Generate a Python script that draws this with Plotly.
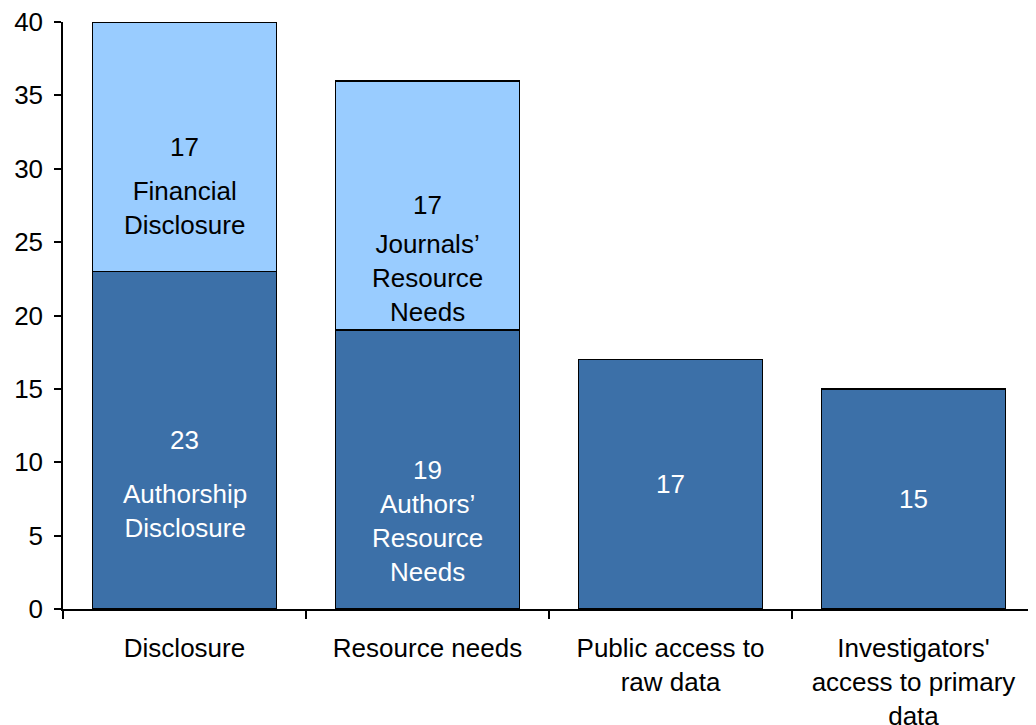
import plotly.graph_objects as go

categories = ["Disclosure", "Resource needs", "Public access to<br>raw data",
              "Investigators'<br>access to primary<br>data"]
base_values = [23, 19, 17, 15]
top_values = [17, 17, None, None]
base_labels = ["Authorship<br>Disclosure", "Authors’<br>Resource<br>Needs", "", ""]
top_labels = ["Financial<br>Disclosure", "Journals’<br>Resource<br>Needs", "", ""]
y_ticks = [0, 5, 10, 15, 20, 25, 30, 35, 40]

# pixel offsets of the descriptive labels below the numbers (layout only)
base_label_off = [55, 36, 0, 0]
top_label_off = [45, 40, 0, 0]

DARK = "#3C70A8"
LIGHT = "#99CCFF"
FONT = "Liberation Sans, Arial, sans-serif"
FS = 26
LINE = 32.5

fig = go.Figure()
fig.add_bar(x=categories, y=base_values, marker=dict(color=DARK, line=dict(color="black", width=1.6)),
            width=0.757, hoverinfo="skip")
fig.add_bar(x=categories, y=top_values, marker=dict(color=LIGHT, line=dict(color="black", width=1.6)),
            width=0.757, hoverinfo="skip")

ann = []
for i, c in enumerate(categories):
    b = base_values[i]
    mid = b / 2
    ann.append(dict(x=c, y=mid, text=str(b), showarrow=False, yanchor="middle",
                    font=dict(color="white", size=FS, family=FONT)))
    if base_labels[i]:
        n = base_labels[i].count("<br>") + 1
        ann.append(dict(x=c, y=mid, text=base_labels[i], showarrow=False, yanchor="middle",
                        yshift=-(base_label_off[i] + (n - 1) * LINE / 2),
                        font=dict(color="white", size=FS, family=FONT)))
    t = top_values[i]
    if t:
        tmid = b + t / 2
        ann.append(dict(x=c, y=tmid, text=str(t), showarrow=False, yanchor="middle",
                        font=dict(color="black", size=FS, family=FONT)))
        if top_labels[i]:
            n = top_labels[i].count("<br>") + 1
            ann.append(dict(x=c, y=tmid, text=top_labels[i], showarrow=False, yanchor="middle",
                            yshift=-(top_label_off[i] + (n - 1) * LINE / 2),
                            font=dict(color="black", size=FS, family=FONT)))

fig.update_layout(
    barmode="stack",
    width=1028, height=717,
    margin=dict(l=55, r=1, t=14, b=116, autoexpand=False),
    paper_bgcolor="white", plot_bgcolor="white",
    showlegend=False,
    font=dict(family=FONT, size=FS, color="black"),
    annotations=ann,
    xaxis=dict(type="category", showline=True, linecolor="black", linewidth=1.5,
               ticks="outside", tickson="boundaries", ticklen=8, tickcolor="black", tickwidth=1.5,
               showgrid=False, tickfont=dict(size=FS, family=FONT, color="black"),
               ticklabelstandoff=15, ticklabeloverflow="allow", fixedrange=True),
    yaxis=dict(range=[0, 40], tickvals=y_ticks, showline=True, linecolor="black", linewidth=1.5,
               ticks="outside", ticklen=7, tickcolor="black", tickwidth=1.5,
               showgrid=False, zeroline=False, tickfont=dict(size=FS, family=FONT, color="black"),
               ticklabelstandoff=6, ticklabeloverflow="allow", fixedrange=True),
)

fig.write_html("out.html")
